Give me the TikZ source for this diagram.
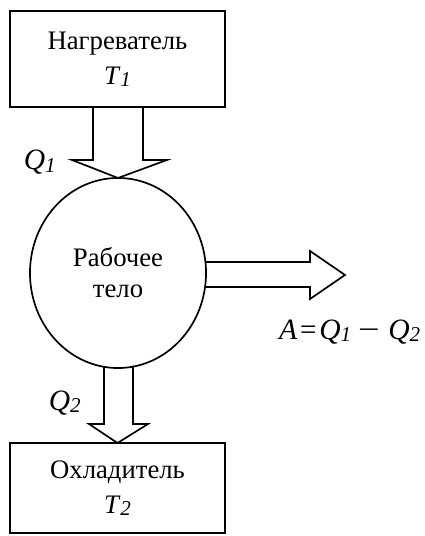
\documentclass[tikz,border=0pt]{standalone}
\usepackage{fontspec}
\setmainfont{Liberation Serif}
\usetikzlibrary{shapes.geometric}
\newcommand\idx[1]{\raisebox{-0.15ex}{\fontsize{15}{15}\selectfont\itshape #1}}

\begin{document}
\begin{tikzpicture}[x=0.025cm,y=-0.025cm,line width=1.2pt,
  box/.style={draw,line width=1.4pt,minimum width=5.375cm,minimum height=2.4cm,align=center,inner sep=0pt,outer sep=0pt,font=\fontsize{19}{25}\selectfont},
  body/.style={draw,ellipse,minimum width=4.4cm,minimum height=4.75cm,align=center,inner sep=0pt,outer sep=0pt,font=\fontsize{19}{22}\selectfont},
  lbl/.style={font=\fontsize{21}{21}\selectfont\itshape,inner sep=0pt,anchor=base west}]
\useasboundingbox (0,0) rectangle (424,536);
\clip (0,0) rectangle (424,536);
\node[box] (heater) at (117.5,59) {Нагреватель\\\textit{T}\idx{1}};
\node[body] (wb) at (118,273) {Рабочее\\тело};
\node[box,minimum height=2.25cm] (cooler) at (117.5,488) {Охладитель\\\textit{T}\idx{2}};
\coordinate (work) at (345,275);
\draw (heater.south) ++(-24.5,0) -- ++(0,53) -- ++(-21,0) -- (wb.north) -- ++(49,-18) -- ++(-24,0) -- ++(0,-53);
\draw (wb.east) ++(0,-11) -- ++(104,0) -- ++(0,-11) -- (work) -- ++(-35,24) -- ++(0,-12) -- ++(-104,0);
\draw (wb.south) ++(-14,-2) -- ++(0,58) -- ++(-15,0) -- (cooler.north) -- ++(30.5,-19) -- ++(-15,0) -- ++(0,-58);
\node[lbl] (q1) at (23,170) {Q\idx{1}};
\node[lbl] (q2) at (48,410) {Q\idx{2}};
\node[lbl,anchor=base east] (alabel) at (421,339) {A\kern0.8pt=\kern0.8pt Q\idx{1}\hspace{5pt}\upshape\scalebox{1.3}[1]{−}\hspace{6pt}\itshape Q\idx{2}};
\end{tikzpicture}
\end{document}
